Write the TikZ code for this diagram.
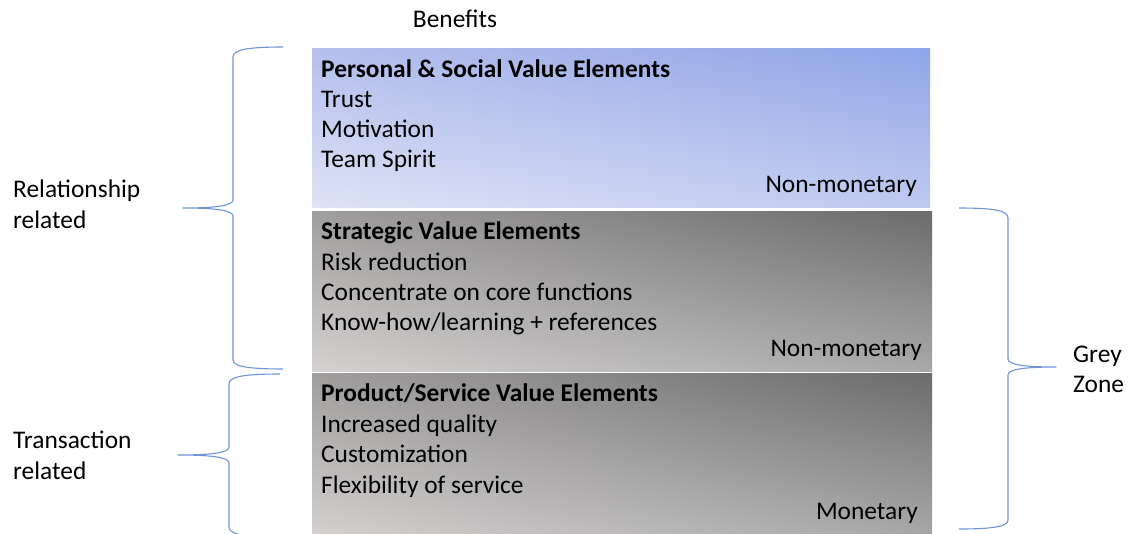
\documentclass[tikz,border=0pt]{standalone}
\usepackage{fontspec}
\setmainfont{Carlito}
\usetikzlibrary{shadings}
\definecolor{blueUL}{RGB}{180,191,236}
\definecolor{blueUR}{RGB}{143,165,232}
\definecolor{blueLL}{RGB}{222,227,245}
\definecolor{blueLR}{RGB}{190,201,239}
\definecolor{greyUL}{RGB}{160,157,157}
\definecolor{greyUR}{RGB}{108,108,108}
\definecolor{greyLL}{RGB}{212,209,208}
\definecolor{greyLR}{RGB}{168,168,168}
\definecolor{bracecol}{RGB}{111,148,216}
\begin{document}
\begin{tikzpicture}[x=1pt,y=-1pt,
  txt/.style={font=\fontsize{25.4}{30}\selectfont, inner sep=0pt, text=black},
  box/.style={draw=none, inner sep=0pt, anchor=north west},
  bluebox/.style={box, upper left=blueUL, upper right=blueUR, lower left=blueLL, lower right=blueLR},
  greybox/.style={box, upper left=greyUL, upper right=greyUR, lower left=greyLL, lower right=greyLR},
  brace/.style={draw=bracecol, line width=1.1pt, line join=round}
]
\useasboundingbox (0,0) rectangle (1135,533);

% three stacked value boxes
\node[bluebox, minimum width=618pt, minimum height=159pt] (b1) at (312,48) {};
\node[greybox, minimum width=620pt, minimum height=160pt] (b2) at (312,211) {};
\node[greybox, minimum width=620pt, minimum height=165pt] (b3) at (312,373) {};

\node[txt, anchor=base] (benefits) at (455,27) {Benefits};

% personal & social
\node[txt, anchor=base west] (t1) at (321,77) {\textbf{Personal \& Social Value Elements}};
\node[txt, anchor=base west] (t1a) at (321,107) {Trust};
\node[txt, anchor=base west] (t1b) at (321,137) {Motivation};
\node[txt, anchor=base west] (t1c) at (321,167) {Team Spirit};
\node[txt, anchor=base east] (m1) at (917,192) {Non-monetary};

% strategic
\node[txt, anchor=base west] (t2) at (321,239) {\textbf{Strategic Value Elements}};
\node[txt, anchor=base west] (t2a) at (321,270) {Risk reduction};
\node[txt, anchor=base west] (t2b) at (321,300) {Concentrate on core functions};
\node[txt, anchor=base west] (t2c) at (321,330) {Know-how/learning + references};
\node[txt, anchor=base east] (m2) at (922,356) {Non-monetary};

% product/service
\node[txt, anchor=base west] (t3) at (321,401) {\textbf{Product/Service Value Elements}};
\node[txt, anchor=base west] (t3a) at (321,432) {Increased quality};
\node[txt, anchor=base west] (t3b) at (321,462) {Customization};
\node[txt, anchor=base west] (t3c) at (321,493) {Flexibility of service};
\node[txt, anchor=base east] (m3) at (918,519) {Monetary};

% side labels
\node[txt, anchor=base west] (rel1) at (13,197) {Relationship};
\node[txt, anchor=base west] (rel2) at (13,228) {related};
\node[txt, anchor=base west] (tra1) at (13,448) {Transaction};
\node[txt, anchor=base west] (tra2) at (13,479) {related};
\node[txt, anchor=base west] (grey1) at (1073,362) {Grey};
\node[txt, anchor=base west] (grey2) at (1073,392) {Zone};

% brace ends and tips
\coordinate (ra) at (283,47);  \coordinate (rb) at (283,369); \coordinate (rtip) at (183,208);
\coordinate (ta) at (280,374); \coordinate (tb) at (280,537); \coordinate (ttip) at (178,455);
\coordinate (ga) at (959,208); \coordinate (gb) at (959,529); \coordinate (gtip) at (1056,367);

% relationship brace
\draw[brace] (ra) .. controls (246,47) and (233,50) .. (233,57) -- (233,200)
  .. controls (233,206) and (214,208) .. (rtip)
  .. controls (214,208) and (233,210) .. (233,216) -- (233,360)
  .. controls (233,366) and (246,369) .. (rb);
% transaction brace
\draw[brace] (ta) .. controls (242,374) and (229,377) .. (229,384) -- (229,447)
  .. controls (229,453) and (210,455) .. (ttip)
  .. controls (210,455) and (229,457) .. (229,463) -- (229,527)
  .. controls (229,534) and (242,537) .. (tb);
% grey zone brace
\draw[brace] (ga) .. controls (996,208) and (1008,211) .. (1008,218) -- (1008,359)
  .. controls (1008,365) and (1026,367) .. (gtip)
  .. controls (1026,367) and (1008,369) .. (1008,375) -- (1008,520)
  .. controls (1008,526) and (996,529) .. (gb);
\end{tikzpicture}
\end{document}
